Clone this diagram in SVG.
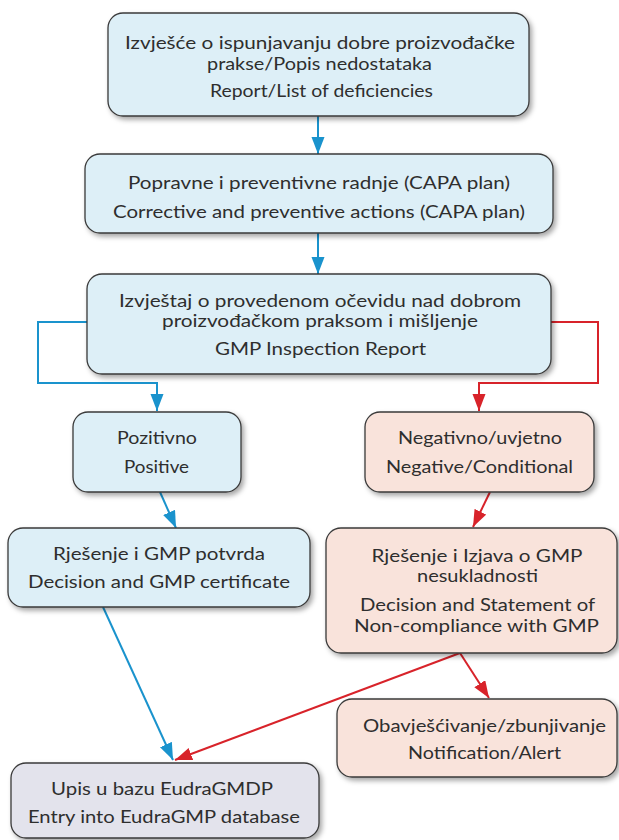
<svg xmlns="http://www.w3.org/2000/svg" width="619" height="840" viewBox="0 0 619 840">
<defs>
<filter id="sh" x="-10%" y="-10%" width="125%" height="130%">
<feDropShadow dx="2.5" dy="3" stdDeviation="2.5" flood-color="#000" flood-opacity="0.35"/>
</filter>
<marker id="ab" markerUnits="userSpaceOnUse" markerWidth="18" markerHeight="14" refX="17" refY="6.5" orient="auto"><path d="M0,0 L17,6.5 L0,13 z" fill="#1a93cd"/></marker>
<marker id="ar" markerUnits="userSpaceOnUse" markerWidth="18" markerHeight="14" refX="17" refY="6.5" orient="auto"><path d="M0,0 L17,6.5 L0,13 z" fill="#d8232a"/></marker>
</defs>
<style>
rect{stroke:#3a3a3a;stroke-width:1.3;filter:url(#sh)}
.b{fill:#ddeff7}.p{fill:#f9e3db}.g{fill:#e3e3ec}
text{font-family:Lato,"Open Sans",sans-serif;font-size:18px;fill:#2e2e2e;text-anchor:middle}
.cb{fill:none;stroke:#1a93cd;stroke-width:2}
.cr{fill:none;stroke:#d8232a;stroke-width:2}
</style>
<g id="connectors">
<path class="cb" d="M318,116 V154" marker-end="url(#ab)"/>
<path class="cb" d="M318,233 V274" marker-end="url(#ab)"/>
<path class="cb" d="M87,322 H38 V383 H157 V411" marker-end="url(#ab)"/>
<path class="cr" d="M551,322 H598 V383 H479 V411" marker-end="url(#ar)"/>
<path class="cb" d="M160,492 L176,528" marker-end="url(#ab)"/>
<path class="cr" d="M490,492 L473,527" marker-end="url(#ar)"/>
<path class="cb" d="M103,607 L173,760" marker-end="url(#ab)"/>
<path class="cr" d="M460,653 L489,698" marker-end="url(#ar)"/>
<path class="cr" d="M460,653 L175,760" marker-end="url(#ar)"/>
</g>
<g id="n1">
<rect class="b" x="108" y="13" width="421" height="103" rx="15"/>
<text x="320" y="49" textLength="390" lengthAdjust="spacingAndGlyphs">Izvješće o ispunjavanju dobre proizvođačke</text>
<text x="319.5" y="70" textLength="225" lengthAdjust="spacingAndGlyphs">prakse/Popis nedostataka</text>
<text x="321.5" y="97" textLength="223" lengthAdjust="spacingAndGlyphs">Report/List of deficiencies</text>
</g>
<g id="n2">
<rect class="b" x="85" y="154" width="468" height="79" rx="15"/>
<text x="319" y="189" textLength="382" lengthAdjust="spacingAndGlyphs">Popravne i preventivne radnje (CAPA plan)</text>
<text x="319" y="218" textLength="412" lengthAdjust="spacingAndGlyphs">Corrective and preventive actions (CAPA plan)</text>
</g>
<g id="n3">
<rect class="b" x="87" y="274" width="464" height="100" rx="15"/>
<text x="320" y="307" textLength="402" lengthAdjust="spacingAndGlyphs">Izvještaj o provedenom očevidu nad dobrom</text>
<text x="320" y="327" textLength="316" lengthAdjust="spacingAndGlyphs">proizvođačkom praksom i mišljenje</text>
<text x="320.5" y="355" textLength="211" lengthAdjust="spacingAndGlyphs">GMP Inspection Report</text>
</g>
<g id="n4">
<rect class="b" x="73" y="412" width="168" height="80" rx="15"/>
<text x="157" y="444" textLength="80" lengthAdjust="spacingAndGlyphs">Pozitivno</text>
<text x="156.5" y="473" textLength="65" lengthAdjust="spacingAndGlyphs">Positive</text>
</g>
<g id="n5">
<rect class="p" x="365" y="412" width="229" height="80" rx="15"/>
<text x="480" y="444" textLength="164" lengthAdjust="spacingAndGlyphs">Negativno/uvjetno</text>
<text x="479.5" y="473" textLength="187" lengthAdjust="spacingAndGlyphs">Negative/Conditional</text>
</g>
<g id="n6">
<rect class="b" x="8" y="528" width="302" height="79" rx="15"/>
<text x="159" y="560" textLength="212" lengthAdjust="spacingAndGlyphs">Rješenje i GMP potvrda</text>
<text x="159" y="588" textLength="262" lengthAdjust="spacingAndGlyphs">Decision and GMP certificate</text>
</g>
<g id="n7">
<rect class="p" x="326" y="528" width="291" height="125" rx="15"/>
<text x="477" y="562" textLength="211" lengthAdjust="spacingAndGlyphs">Rješenje i Izjava o GMP</text>
<text x="477.5" y="582" textLength="121" lengthAdjust="spacingAndGlyphs">nesukladnosti</text>
<text x="477.5" y="611" textLength="235" lengthAdjust="spacingAndGlyphs">Decision and Statement of</text>
<text x="476.5" y="632" textLength="245" lengthAdjust="spacingAndGlyphs">Non-compliance with GMP</text>
</g>
<g id="n8">
<rect class="p" x="337" y="699" width="280" height="78" rx="15"/>
<text x="484.5" y="732" textLength="243" lengthAdjust="spacingAndGlyphs">Obavješćivanje/zbunjivanje</text>
<text x="484.5" y="759" textLength="153" lengthAdjust="spacingAndGlyphs">Notification/Alert</text>
</g>
<g id="n9">
<rect class="g" x="11" y="763" width="308" height="75" rx="15"/>
<text x="162" y="795" textLength="222" lengthAdjust="spacingAndGlyphs">Upis u bazu EudraGMDP</text>
<text x="164" y="823" textLength="272" lengthAdjust="spacingAndGlyphs">Entry into EudraGMP database</text>
</g>
</svg>
